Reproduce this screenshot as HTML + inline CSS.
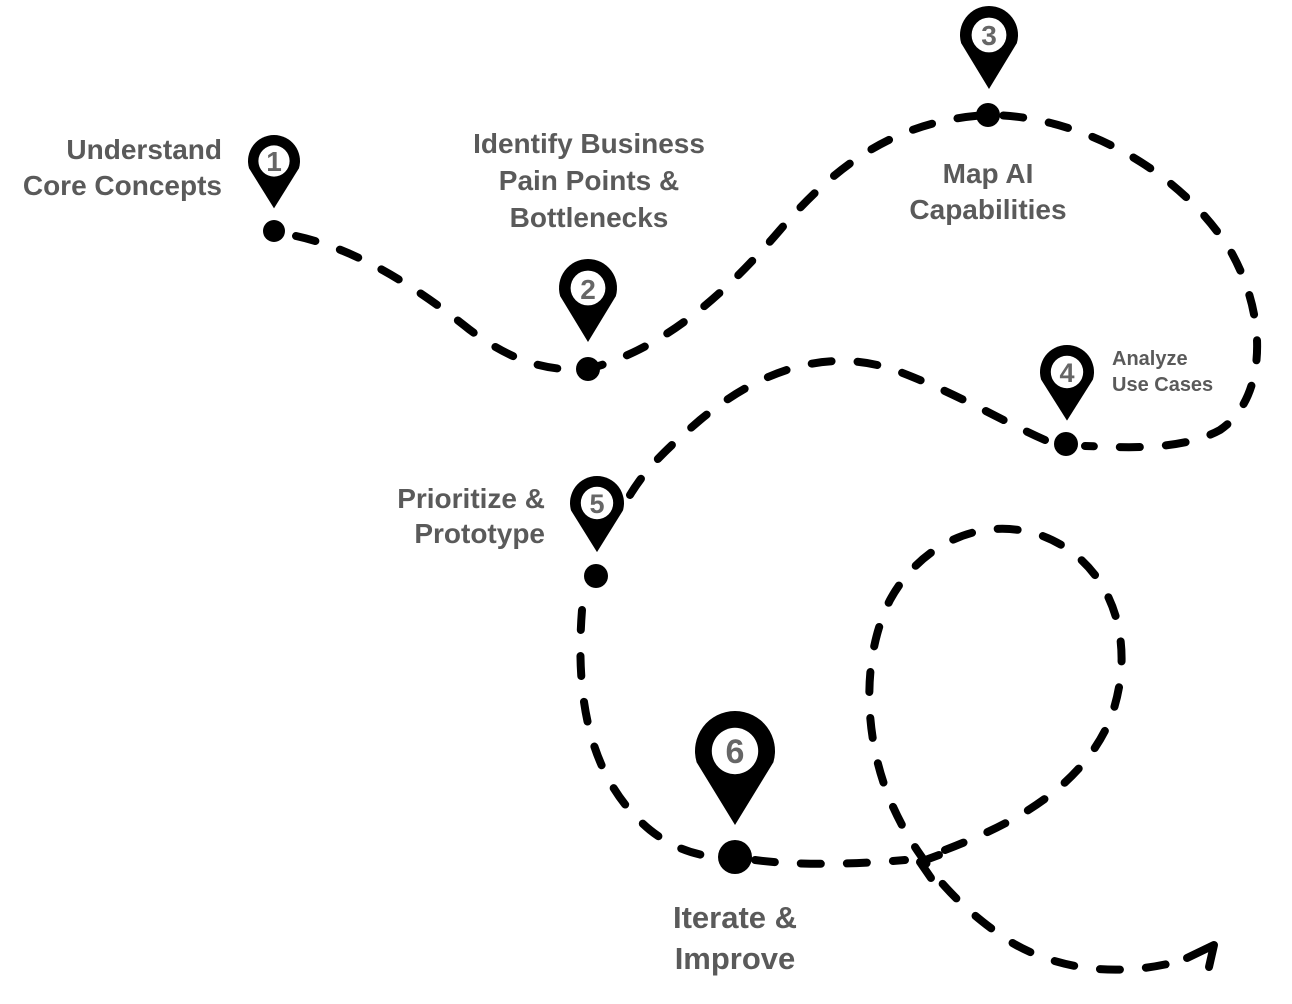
<!DOCTYPE html>
<html><head><meta charset="utf-8"><style>
html,body{margin:0;padding:0;background:#fff;width:1292px;height:1004px;overflow:hidden}
text{font-family:"Liberation Sans",sans-serif;fill:#5a5a5a;font-weight:bold}
.l{font-size:28px}
.n{font-family:"Liberation Sans",sans-serif;font-weight:bold;fill:#666;text-anchor:middle}
</style></head><body>
<svg width="1292" height="1004" viewBox="0 0 1292 1004" xmlns="http://www.w3.org/2000/svg">
<g fill="none" stroke="#000" stroke-width="8" stroke-linecap="round" stroke-dasharray="20 26">
<path d="M296,236 C360,250 420,290 470,330 C510,360 545,372 588,369 C660,350 720,300 780,230 C840,160 900,120 988,115 C1080,115 1180,170 1230,250 C1270,320 1265,400 1220,430 C1180,452 1120,447 1085,446"/>
<path d="M1045,440 C1000,420 960,395 900,372 C830,345 760,370 700,420 C665,450 645,470 630,495"/>
<path d="M582,610 C575,700 590,780 650,830 C675,850 700,856 718,857"/>
<path d="M755,860 C800,866 860,864 905,860"/>
<path d="M945,850 C1010,825 1080,790 1110,720 C1140,640 1110,560 1040,535 C980,515 920,545 890,600 C860,660 865,740 890,800 C905,835 920,855 935,875 C960,905 980,920 1000,935 C1050,970 1120,980 1190,958"/>
</g>
<g fill="none" stroke="#000" stroke-width="8" stroke-linecap="round" stroke-linejoin="round">
<path d="M939,855 L920,862 L931,878"/>
<path d="M1187,958 L1214,945 L1209,967"/>
</g>
<g fill="#000">
<circle cx="274" cy="231" r="11"/>
<circle cx="588" cy="369" r="12"/>
<circle cx="988" cy="115" r="12"/>
<circle cx="1066" cy="444" r="12"/>
<circle cx="596" cy="576" r="12"/>
<circle cx="735" cy="857" r="17"/>
</g>
<g>
<g transform="translate(274,161) scale(26)"><path d="M-0.96,0.28 A1,1 0 1 1 0.96,0.28 L0,1.82 Z" fill="#000"/><circle r="0.6" fill="#fff"/></g>
<text class="n" x="274" y="171" font-size="28">1</text>
<g transform="translate(588,288) scale(29)"><path d="M-0.96,0.28 A1,1 0 1 1 0.96,0.28 L0,1.86 Z" fill="#000"/><circle r="0.6" fill="#fff"/></g>
<text class="n" x="588" y="299" font-size="28">2</text>
<g transform="translate(989,35) scale(29)"><path d="M-0.96,0.28 A1,1 0 1 1 0.96,0.28 L0,1.86 Z" fill="#000"/><circle r="0.6" fill="#fff"/></g>
<text class="n" x="989" y="45" font-size="28">3</text>
<g transform="translate(1067,372) scale(27)"><path d="M-0.96,0.28 A1,1 0 1 1 0.96,0.28 L0,1.8 Z" fill="#000"/><circle r="0.6" fill="#fff"/></g>
<text class="n" x="1067" y="382" font-size="27">4</text>
<g transform="translate(597,503) scale(27)"><path d="M-0.96,0.28 A1,1 0 1 1 0.96,0.28 L0,1.82 Z" fill="#000"/><circle r="0.6" fill="#fff"/></g>
<text class="n" x="597" y="513" font-size="27">5</text>
<g transform="translate(735,751) scale(40)"><path d="M-0.96,0.28 A1,1 0 1 1 0.96,0.28 L0,1.85 Z" fill="#000"/><circle r="0.58" fill="#fff"/></g>
<text class="n" x="735" y="763" font-size="34">6</text>
</g>
<text class="l" text-anchor="end" x="222" y="159">Understand</text>
<text class="l" text-anchor="end" x="222" y="195">Core Concepts</text>
<text class="l" text-anchor="middle" x="589" y="153">Identify Business</text>
<text class="l" text-anchor="middle" x="589" y="190">Pain Points &amp;</text>
<text class="l" text-anchor="middle" x="589" y="227">Bottlenecks</text>
<text class="l" text-anchor="middle" x="988" y="183">Map AI</text>
<text class="l" text-anchor="middle" x="988" y="219">Capabilities</text>
<text x="1112" y="365" font-size="20">Analyze</text>
<text x="1112" y="391" font-size="20">Use Cases</text>
<text class="l" text-anchor="end" x="545" y="508">Prioritize &amp;</text>
<text class="l" text-anchor="end" x="545" y="543">Prototype</text>
<text text-anchor="middle" x="735" y="928" font-size="31">Iterate &amp;</text>
<text text-anchor="middle" x="735" y="969" font-size="31">Improve</text>
</svg>
</body></html>
